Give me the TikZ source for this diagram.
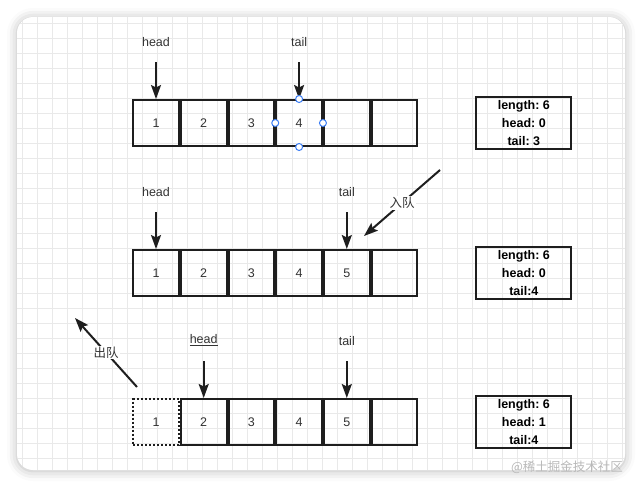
\documentclass[tikz,border=0pt]{standalone}
\usepackage{fontspec}
\setmainfont{Liberation Sans}
\newfontfamily\cjk{Noto Sans CJK SC}
\usetikzlibrary{positioning,arrows.meta,shadows.blur}
\definecolor{ink}{HTML}{1E1E1E}
\definecolor{txt}{HTML}{333333}
\definecolor{gridc}{HTML}{E9E9E9}
\definecolor{handleblue}{HTML}{3D7FF5}
\frenchspacing
\begin{document}
\begin{tikzpicture}[x=1pt, y=-1pt,
    cell/.style={draw=ink, line width=2pt, minimum width=45.7pt, minimum height=46pt,
        inner sep=0pt, text=txt, font=\fontsize{12.5}{15}\selectfont},
    dotcell/.style={cell, dash pattern=on 2pt off 2pt},
    infobox/.style={draw=ink, line width=2pt, minimum width=95pt, minimum height=52pt,
        align=center, font=\bfseries\fontsize{12.5}{18}\selectfont},
    lbl/.style={text=txt, font=\fontsize{12.5}{15}\selectfont},
    tag/.style={fill=white, text=txt, inner sep=1pt, font=\cjk\fontsize{12.5}{15}\selectfont},
    ptr/.style={draw=ink, line width=2pt, -{Stealth[length=14pt, width=10pt, inset=2.5pt]}},
    handle/.style={circle, draw=handleblue, fill=white, line width=1pt, minimum size=7pt, inner sep=0pt},
    gridline/.style={draw=gridc, line width=1pt}]
    \useasboundingbox (0,0) rectangle (642,490);

    % card and grid
    \fill[white, rounded corners=16pt, blur shadow={shadow xshift=0pt, shadow yshift=-1pt,
        shadow blur radius=10pt, shadow opacity=28}] (17,17) rectangle (625,470);
    \begin{scope}
        \clip[rounded corners=16pt] (17,17) rectangle (625,470);
        \foreach \gx in {22,37,...,622} \draw[gridline] (\gx,17) -- (\gx,470);
        \foreach \gy in {23,38,...,458} \draw[gridline] (17,\gy) -- (625,\gy);
    \end{scope}

    % row 1
    \node[cell] (a1) at (156,123) {1};
    \node[cell, right=0pt of a1] (a2) {2};
    \node[cell, right=0pt of a2] (a3) {3};
    \node[cell, right=0pt of a3] (a4) {4};
    \node[cell, right=0pt of a4] (a5) {};
    \node[cell, right=0pt of a5] (a6) {};
    \node[infobox, right=57pt of a6] (i1) {length: 6\\head: 0\\tail: 3};
    \node[lbl, above=49pt of a1.north] (h1) {head};
    \node[lbl, above=49pt of a4.north] (t1) {tail};
    \draw[ptr, shorten <=12pt] (h1.south) -- (a1.north);
    \draw[ptr, shorten <=12pt] (t1.south) -- (a4.north);
    \foreach \side in {north,south,west,east}
        \node[handle] at (a4.\side) {};

    % row 2
    \node[cell] (b1) at (156,273) {1};
    \node[cell, right=0pt of b1] (b2) {2};
    \node[cell, right=0pt of b2] (b3) {3};
    \node[cell, right=0pt of b3] (b4) {4};
    \node[cell, right=0pt of b4] (b5) {5};
    \node[cell, right=0pt of b5] (b6) {};
    \node[infobox, right=57pt of b6] (i2) {length: 6\\head: 0\\tail:4};
    \node[lbl, above=49pt of b1.north] (h2) {head};
    \node[lbl, above=49pt of b5.north] (t2) {tail};
    \draw[ptr, shorten <=12pt] (h2.south) -- (b1.north);
    \draw[ptr, shorten <=12pt] (t2.south) -- (b5.north);
    \coordinate (inS) at (440,170);
    \coordinate (inE) at (364,236);
    \draw[ptr] (inS) -- node[tag] {入队} (inE);

    % row 3
    \node[dotcell] (c1) at (156,422) {1};
    \node[cell, right=0pt of c1] (c2) {2};
    \node[cell, right=0pt of c2] (c3) {3};
    \node[cell, right=0pt of c3] (c4) {4};
    \node[cell, right=0pt of c4] (c5) {5};
    \node[cell, right=0pt of c5] (c6) {};
    \node[infobox, right=57pt of c6] (i3) {length: 6\\head: 1\\tail:4};
    \node[lbl, above=49pt of c2.north] (h3) {\underline{head}};
    \node[lbl, above=49pt of c5.north] (t3) {tail};
    \draw[ptr, shorten <=12pt] (h3.south) -- (c2.north);
    \draw[ptr, shorten <=12pt] (t3.south) -- (c5.north);
    \coordinate (outS) at (137,387);
    \coordinate (outE) at (75,318);
    \draw[ptr] (outS) -- node[tag] {出队} (outE);

    \node[text=gray!55, font=\cjk\fontsize{12.5}{15}\selectfont] (mark) at (567,467) {@稀土掘金技术社区};
\end{tikzpicture}
\end{document}
